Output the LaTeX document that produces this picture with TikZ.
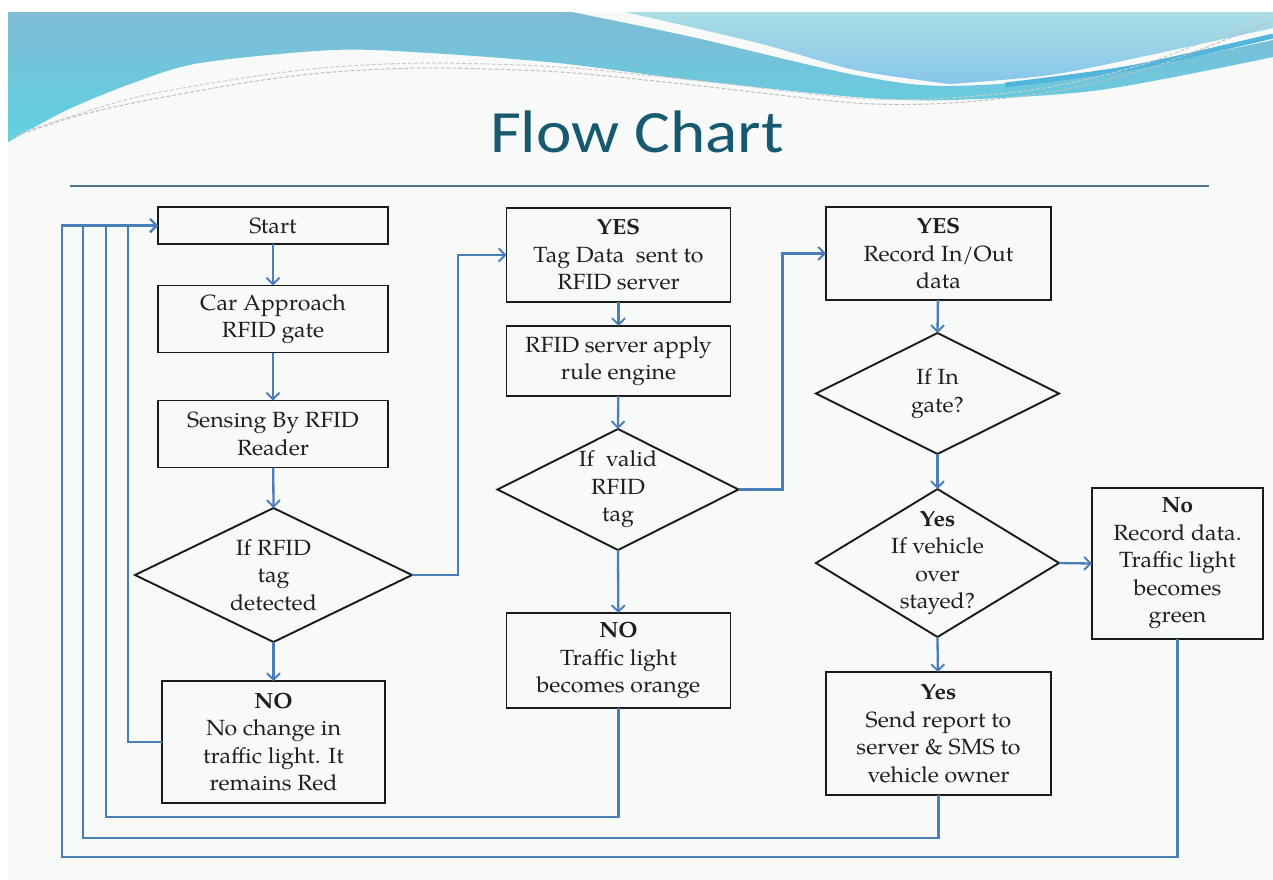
\documentclass[tikz,border=0pt]{standalone}
\usepackage{fontspec}
\usetikzlibrary{arrows.meta,calc}
\newfontfamily\boxfont{TeX Gyre Pagella}[FakeStretch=1.05]
\newfontfamily\titlefont{Carlito}[FakeStretch=1.12]
\definecolor{linec}{HTML}{4A7EB8}
\definecolor{boxc}{HTML}{1A1A1A}
\definecolor{textc}{HTML}{1F1F1F}
\definecolor{titlec}{HTML}{17596E}
\definecolor{rulec}{HTML}{4F7391}
\definecolor{slidebg}{HTML}{F8F9F9}
\definecolor{waveA}{HTML}{7FBBD5}
\definecolor{waveB}{HTML}{5ED2E2}
\definecolor{waveC}{HTML}{A9DEE5}
\definecolor{waveD}{HTML}{88C5EA}
\definecolor{waveE}{HTML}{52B6DC}
\begin{document}
\begin{tikzpicture}[x=1pt,y=-1pt,
  box/.style={draw=boxc, line width=1.9pt, inner sep=0pt, outer sep=0pt, align=center,
    font=\boxfont\fontsize{22}{27.5}\selectfont, text=textc},
  dtext/.style={inner sep=0pt, outer sep=0pt, align=center,
    font=\boxfont\fontsize{22}{27.5}\selectfont, text=textc},
  dia/.style={draw=boxc, line width=1.9pt, line join=miter},
  flow/.style={draw=linec, line width=2.3pt},
  arr/.style={flow, -{Straight Barb[length=6.5pt,width=13pt,line width=1.9pt]}}]

% canvas
\useasboundingbox (0,0) rectangle (1273,879);
\fill[white] (0,0) rectangle (1273,879);
\fill[slidebg] (8,12) rectangle (1273,879);

% header waves
\shade[top color=waveA, bottom color=waveB]
  (8,12) -- (572,12)
  -- plot[smooth] coordinates {(572,12) (692,37) (855,75) (950,86) (1100,74) (1273,40)}
  -- (1273,57)
  -- plot[smooth] coordinates {(1273,57) (1100,90) (950,100) (855,97) (692,80) (558,63) (430,53) (333,50) (200,63) (133,83) (67,110) (8,142)}
  -- cycle;
\shade[top color=waveC, bottom color=waveD]
  (625,12) -- (1273,12) -- (1273,28)
  -- plot[smooth] coordinates {(1273,28) (1150,55) (1050,75) (950,84)}
  -- plot[smooth] coordinates {(950,84) (855,70) (758,43) (625,12)}
  -- cycle;
\draw[waveE, line width=5pt] plot[smooth] coordinates {(1005,85) (1130,68) (1273,36)};
\draw[gray!50, line width=1pt, dash pattern=on 4pt off 2pt]
  plot[smooth] coordinates {(10,138) (70,118) (133,103) (250,82) (333,72) (430,68) (560,72) (692,85) (855,103) (950,103) (1050,92) (1150,68) (1270,22)};
\draw[gray!40, line width=1pt, dash pattern=on 4pt off 2pt]
  plot[smooth] coordinates {(20,133) (133,98) (250,77) (333,67) (430,63) (560,67) (692,80) (855,98) (950,98) (1050,87) (1150,62) (1270,15)};

% title and rule
\node[font=\titlefont\fontsize{60}{60}\selectfont, text=titlec, inner sep=0pt] (title) at (637,132) {Flow Chart};
\draw[rulec, line width=2.5pt] (70,186) -- (1209,186);

% column 1
\node[box, minimum width=230pt, minimum height=37pt] (start) at (273,225.5) {Start};
\node[box, minimum width=230pt, minimum height=67pt] (car) at (273,319) {Car Approach\\RFID gate};
\node[box, minimum width=230pt, minimum height=67pt] (sense) at (273,434) {Sensing By RFID\\Reader};
\node[dtext, minimum width=277pt, minimum height=134pt] (d1) at (273.5,575) {If RFID\\tag\\detected};
\draw[dia] (d1.north) -- (d1.east) -- (d1.south) -- (d1.west) -- cycle;
\node[box, minimum width=223pt, minimum height=122pt] (no1) at (273.5,742) {\textbf{NO}\\No change in\\traffic light. It\\remains Red};

% column 2
\node[box, minimum width=224pt, minimum height=94pt] (yes1) at (618.5,255) {\textbf{YES}\\Tag Data\ \ sent to\\RFID server};
\node[box, minimum width=224pt, minimum height=70pt] (rule) at (618.5,361) {RFID server apply\\rule engine};
\node[dtext, minimum width=241pt, minimum height=121pt] (d2) at (618,489.5) {If\ \ valid\\RFID\\tag};
\draw[dia] (d2.north) -- (d2.east) -- (d2.south) -- (d2.west) -- cycle;
\node[box, minimum width=224pt, minimum height=95pt] (orange) at (618.5,660.5) {\textbf{NO}\\Traffic light\\becomes orange};

% column 3
\node[box, minimum width=225pt, minimum height=93pt] (rec) at (938.5,253.5) {\textbf{YES}\\Record In/Out\\data};
\node[dtext, minimum width=243pt, minimum height=121pt] (d3) at (937.5,393.5) {If In\\gate?};
\draw[dia] (d3.north) -- (d3.east) -- (d3.south) -- (d3.west) -- cycle;
\node[dtext, minimum width=243pt, minimum height=148pt] (d4) at (937.5,563) {\textbf{Yes}\\If vehicle\\over\\stayed?};
\draw[dia] (d4.north) -- (d4.east) -- (d4.south) -- (d4.west) -- cycle;
\node[box, minimum width=225pt, minimum height=123pt] (send) at (938.5,733.5) {\textbf{Yes}\\Send report to\\server \& SMS to\\vehicle owner};
\node[box, minimum width=171pt, minimum height=151pt] (green) at (1177.5,563.5) {\textbf{No}\\Record data.\\Traffic light\\becomes\\green};

% connectors
\draw[arr] (start) -- (car);
\draw[arr] (car) -- (sense);
\draw[arr] (sense) -- (d1.north);
\draw[arr] (d1.south) -- (no1);
\draw[arr] (d1.east) -- ++(46,0) |- (yes1.west);
\draw[arr] (yes1) -- (rule);
\draw[arr] (rule) -- (d2.north);
\draw[arr] (d2.south) -- (orange);
\draw[arr] (d2.east) -- ++(44,0) |- (rec.west);
\draw[arr] (rec) -- (d3.north);
\draw[arr] (d3.south) -- (d4.north);
\draw[arr] (d4.east) -- (green.west);
\draw[arr] (d4.south) -- (send);

% return loops to Start
\draw[arr] (no1.west) -| ($(start.west)+(-30,0)$) -- (start.west);
\draw[arr] (orange.south) -- ++(0,109) -| ($(start.west)+(-52,0)$) -- (start.west);
\draw[arr] (send.south) -- ++(0,43) -| ($(start.west)+(-75,0)$) -- (start.west);
\draw[arr] (green.south) -- ++(0,218) -| ($(start.west)+(-96,0)$) -- (start.west);
\end{tikzpicture}
\end{document}
